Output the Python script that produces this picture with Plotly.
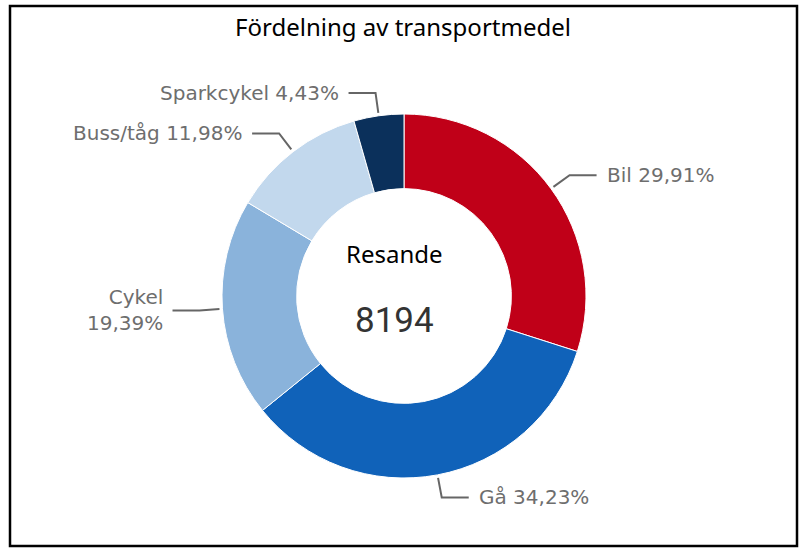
import math
import plotly.graph_objects as go

# data
categories = ["Bil", "Gå", "Cykel", "Buss/tåg", "Sparkcykel"]
shares = [29.91, 34.23, 19.39, 11.98, 4.43]
total_travellers = 8194
colors = ["#C00018", "#1062B9", "#8AB3DB", "#C2D8ED", "#0B305B"]

W, H = 806, 556
cx, cy, R = 404, 296, 182   # donut centre and radius in px


def px(x):
    return x / W


def py(y):
    return 1 - y / H


fig = go.Figure(go.Pie(
    labels=categories,
    values=shares,
    marker=dict(colors=colors, line=dict(color="white", width=1)),
    hole=0.59,
    sort=False,
    direction="clockwise",
    rotation=0,
    textinfo="none",
    hoverinfo="label+percent",
    domain=dict(x=[px(cx - R), px(cx + R)], y=[py(cy + R), py(cy - R)]),
    showlegend=False,
))

# leader lines + outside labels, placed from the slice mid-angles
shapes = []
annotations = []
tot = sum(shares)
acc = 0
for name, val in zip(categories, shares):
    mid = (acc + val / 2) / tot * 2 * math.pi
    acc += val
    sx, sy = cx + (R + 3) * math.sin(mid), cy - (R + 3) * math.cos(mid)
    ex, ey = cx + (R + 23) * math.sin(mid), cy - (R + 23) * math.cos(mid)
    side = 1 if math.sin(mid) >= 0 else -1
    hx = ex + side * 27
    shapes.append(dict(type="path", xref="paper", yref="paper",
                       path=f"M {px(sx)},{py(sy)} L {px(ex)},{py(ey)} L {px(hx)},{py(ey)}",
                       line=dict(color="#666666", width=2)))
    pct = f"{val:.2f}".replace(".", ",") + "%"
    sep = "<br>" if name == "Cykel" else " "
    annotations.append(dict(
        text=f"{name}{sep}{pct}", xref="paper", yref="paper",
        x=px(hx + side * 8), y=py(ey), showarrow=False,
        xanchor="left" if side > 0 else "right", yanchor="middle",
        align="left" if side > 0 else "right",
        font=dict(family="DejaVu Sans", size=20, color="#6E6E6E"),
    ))

annotations.append(dict(text="Resande", xref="paper", yref="paper",
                        x=px(cx - 10), y=py(253), showarrow=False,
                        font=dict(family="Noto Sans", size=24, color="black")))
annotations.append(dict(text=str(total_travellers), xref="paper", yref="paper",
                        x=px(cx - 10), y=py(320), showarrow=False,
                        font=dict(family="Roboto", size=35, color="#333333")))

shapes.append(dict(type="rect", xref="paper", yref="paper",
                   x0=px(10), y0=py(546), x1=px(797), y1=py(6),
                   line=dict(color="black", width=2.5)))

fig.update_layout(
    width=W, height=H,
    margin=dict(l=0, r=0, t=0, b=0),
    paper_bgcolor="white",
    title=dict(text="Fördelning av transportmedel", x=0.5, xanchor="center",
               y=py(28), yanchor="middle",
               font=dict(family="Noto Sans", size=24, color="black")),
    shapes=shapes,
    annotations=annotations,
)

# the page body has a default 8px margin; drop it so the figure sits at 0,0
fig.write_html("out.html", config={"displayModeBar": False},
               post_script="document.body.style.margin='0';")
